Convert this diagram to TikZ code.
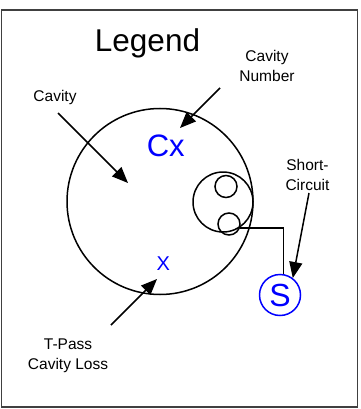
\documentclass[tikz,border=0pt]{standalone}
\usepackage{fontspec}
\setmainfont{Liberation Sans}
\usetikzlibrary{arrows.meta}
\begin{document}
\begin{tikzpicture}[x=1pt,y=-1pt,
  lbl/.style={inner sep=0pt,align=center,font=\fontsize{15.5}{20}\selectfont},
  ring/.style={circle,draw,line width=1.5pt,inner sep=0pt},
  pointer/.style={line width=1.5pt,-{Triangle[length=16pt,width=13pt]}},
  bluetext/.style={inner sep=0pt,text=blue}]
\useasboundingbox (0,0) rectangle (360,409);
\draw[line width=1.6pt,black!75] (1.5,10) rectangle (357.5,407);
% title
\node[inner sep=0pt,anchor=base,font=\fontsize{31.5}{31.5}\selectfont] (title) at (147.5,52) {Legend};
% circles
\node[ring,minimum size=186pt] (cavity) at (160,201.5) {};
\node[ring,minimum size=60pt] (group) at (223,202) {};
\node[ring,minimum size=22pt] (tinya) at (226,186.5) {};
\node[ring,minimum size=22pt] (tinyb) at (229,224) {};
\node[circle,draw=blue,line width=1.5pt,inner sep=0pt,minimum size=41pt] (short) at (280,295) {};
\node[bluetext,anchor=base,font=\fontsize{32}{32}\selectfont] (stext) at (280,306.5) {S};
\draw[line width=1.5pt] (tinyb.-20) -| (short.81);
% blue texts
\node[bluetext,anchor=base,font=\fontsize{31}{31}\selectfont] (cx) at (165.7,156.7) {Cx};
\node[bluetext,anchor=base,font=\fontsize{20}{20}\selectfont] (xloss) at (163.3,270) {X};
% labels (base = last line)
\node[lbl,anchor=base] (lcav) at (55,102) {Cavity};
\node[lbl,anchor=base] (lnum) at (267,82) {Cavity\\Number};
\node[lbl,anchor=base] (lshort) at (307.5,190) {Short-\\Circuit};
\node[lbl,anchor=base] (lpass) at (68,369.3) {T-Pass\\Cavity Loss};
% arrow ends
\coordinate (acav0) at (58,113);
\coordinate (acav1) at (128,183);
\coordinate (anum0) at (220,88);
\coordinate (anum1) at (180,128);
\coordinate (ash0) at (309,193);
\coordinate (apass0) at (111,325);
\coordinate (apass1) at (157,279);
\draw[pointer] (acav0) -- (acav1);
\draw[pointer] (anum0) -- (anum1);
\draw[pointer] (ash0) -- (short.53);
\draw[pointer] (apass0) -- (apass1);
\end{tikzpicture}
\end{document}
